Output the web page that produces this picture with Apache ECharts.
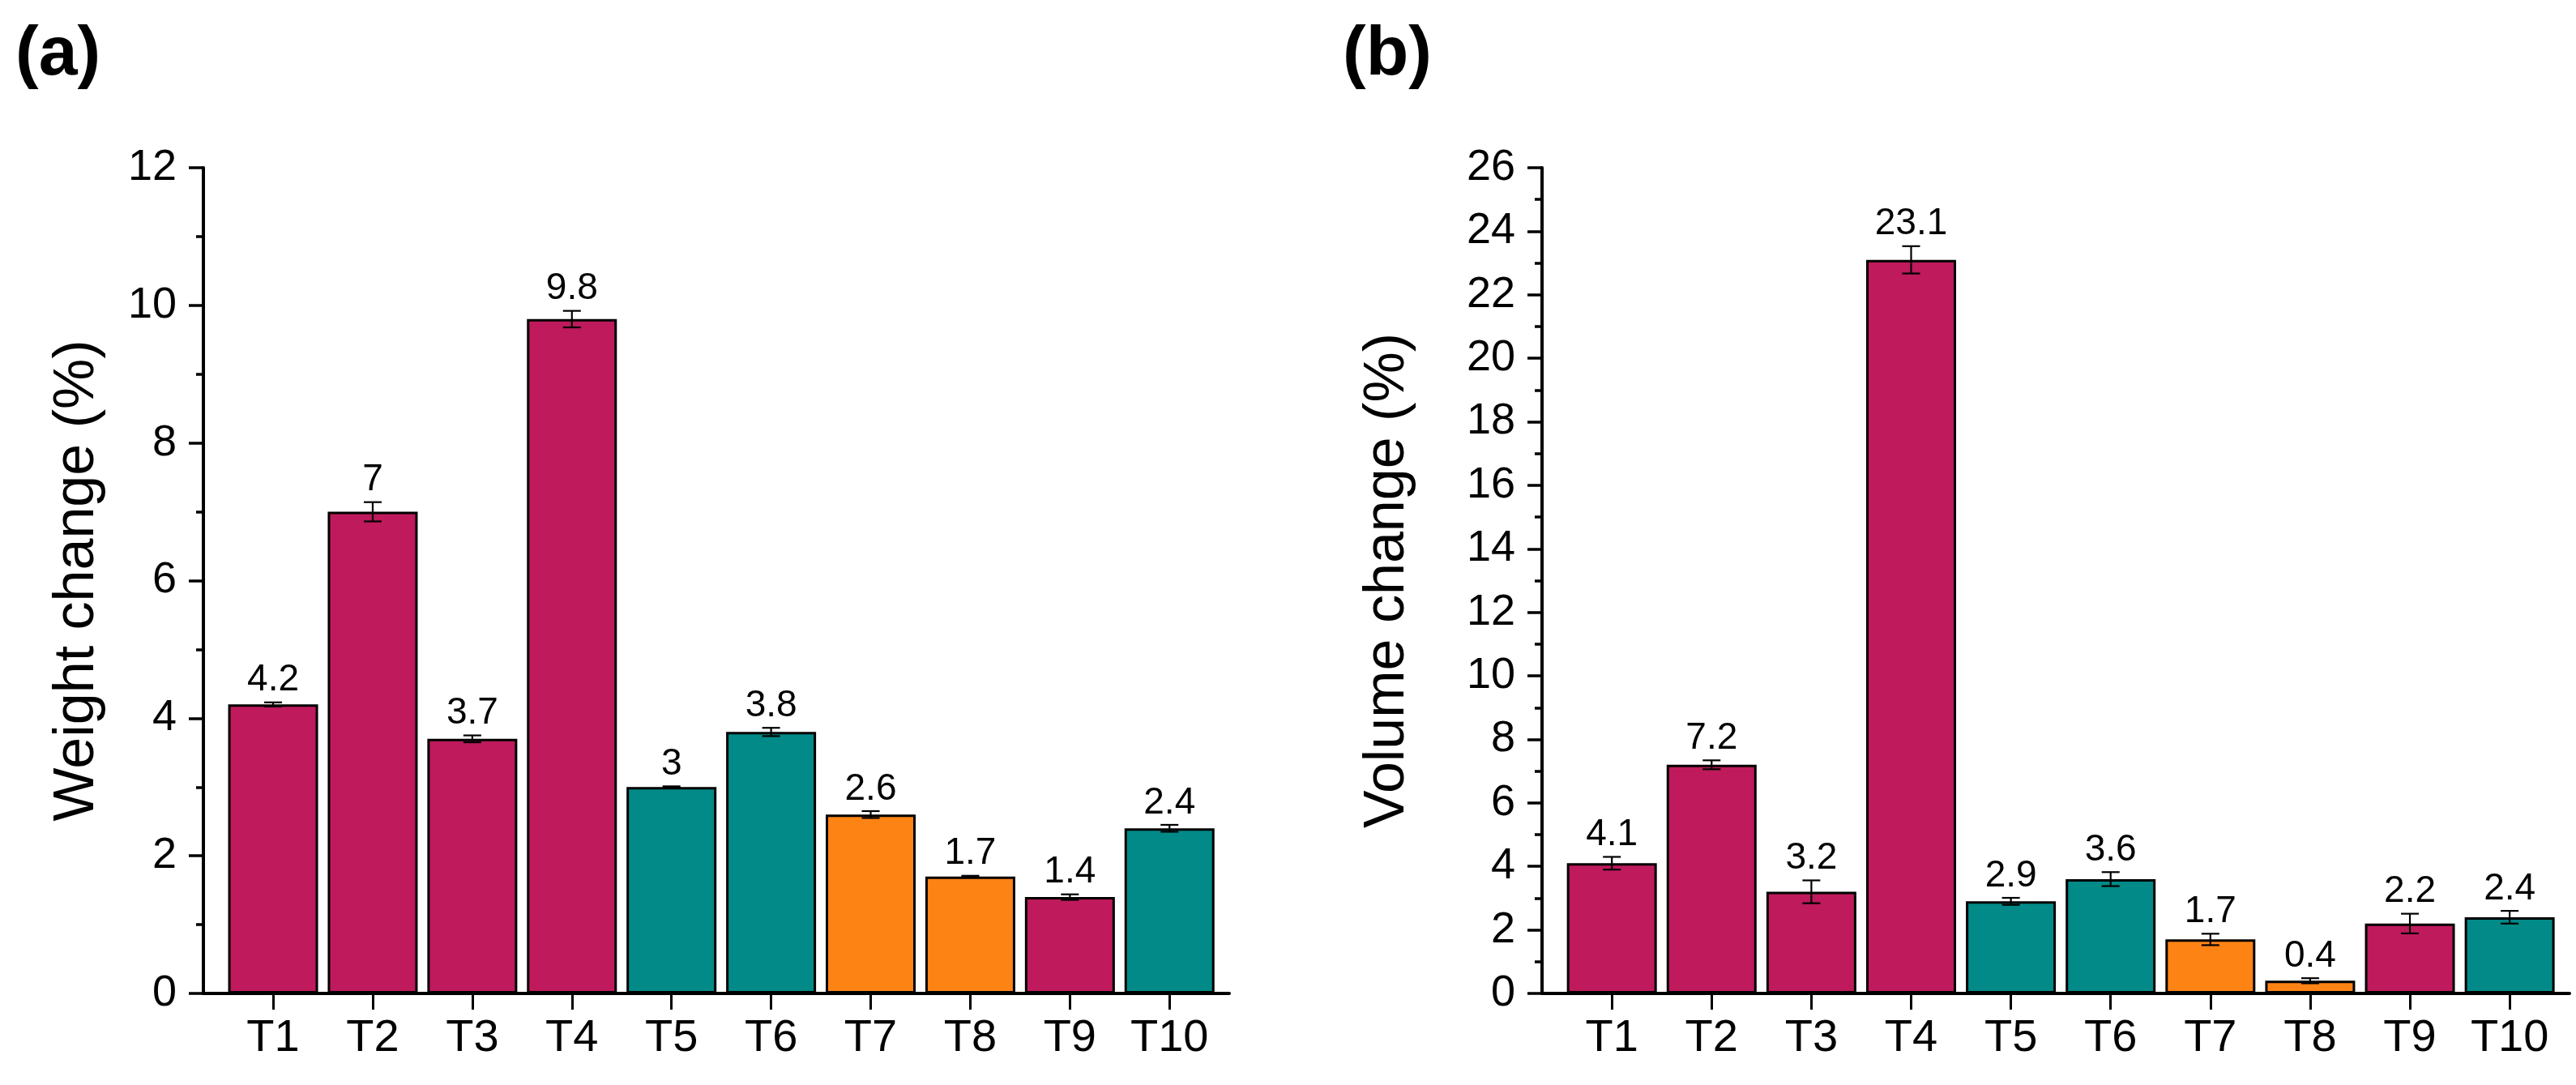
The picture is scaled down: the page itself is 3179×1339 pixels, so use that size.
<!DOCTYPE html>
<html>
<head>
<meta charset="utf-8">
<script src="https://cdn.jsdelivr.net/npm/echarts@6/dist/echarts.min.js"></script>
<style>
html,body{margin:0;padding:0;background:#fff;}
#c{width:3179px;height:1339px;}
</style>
</head>
<body>
<div id="c"></div>
<script>
// ---- data ----
const categories = ['T1','T2','T3','T4','T5','T6','T7','T8','T9','T10'];
const groups = ['c','c','c','c','t','t','o','o','c','t'];
const weightValues = [4.2, 7, 3.7, 9.8, 3, 3.8, 2.6, 1.7, 1.4, 2.4];
const weightErrors = [0.03, 0.14, 0.05, 0.12, 0.01, 0.06, 0.05, 0.01, 0.04, 0.05];
const volumeValues = [4.1, 7.2, 3.2, 23.1, 2.9, 3.6, 1.7, 0.4, 2.2, 2.4];
const volumeErrors = [0.2, 0.14, 0.36, 0.43, 0.11, 0.22, 0.18, 0.08, 0.31, 0.2];
const weightTicks = [0, 2, 4, 6, 8, 10, 12];
const volumeTicks = [0, 2, 4, 6, 8, 10, 12, 14, 16, 18, 20, 22, 24, 26];
const panelLabels = ['(a)', '(b)'];
const axisTitles = ['Weight change (%)', 'Volume change (%)'];
const palette = { c: '#BE1A5C', t: '#018A87', o: '#FE8315' };

const FONT = "'Liberation Sans', Arial, sans-serif";
const positions = categories.map((_, i) => i + 1);

function barData(vals) {
  return vals.map((v, i) => ({ value: [positions[i], v], itemStyle: { color: palette[groups[i]] } }));
}
function errData(vals, errs) {
  return vals.map((v, i) => [positions[i], v, errs[i]]);
}
function errRender(params, api) {
  const x = api.value(0), v = api.value(1), e = api.value(2);
  const top = api.coord([x, v + e]);
  const bot = api.coord([x, v - e]);
  const hw = 11;
  const ls = { stroke: '#000', lineWidth: 2.2 };
  return {
    type: 'group',
    children: [
      { type: 'line', shape: { x1: top[0], y1: top[1], x2: bot[0], y2: bot[1] }, style: ls },
      { type: 'line', shape: { x1: top[0] - hw, y1: top[1], x2: top[0] + hw, y2: top[1] }, style: ls },
      { type: 'line', shape: { x1: bot[0] - hw, y1: bot[1], x2: bot[0] + hw, y2: bot[1] }, style: ls },
      { type: 'text', x: top[0], y: top[1] - 4,
        style: { text: String(v), fontFamily: FONT, fontSize: 46, fill: '#000', align: 'center', verticalAlign: 'bottom' } }
    ]
  };
}

function xAxis(gridIndex) {
  return {
    type: 'value', gridIndex, min: 0.3, max: 10.6,
    splitLine: { show: false },
    axisLine: { show: true, onZero: false, lineStyle: { color: '#000', width: 4 } },
    axisTick: { show: true, customValues: positions, length: 20, lineStyle: { color: '#000', width: 3 } },
    axisLabel: { customValues: positions, formatter: v => categories[Math.round(v) - 1] || '',
      fontFamily: FONT, fontSize: 56, color: '#000', margin: 28 }
  };
}
function yAxis(gridIndex, ticks, name, nameGap) {
  return {
    type: 'value', gridIndex, min: ticks[0], max: ticks[ticks.length - 1], interval: ticks[1] - ticks[0],
    name, nameLocation: 'middle', nameGap,
    nameTextStyle: { fontFamily: FONT, fontSize: 70, color: '#000' },
    splitLine: { show: false },
    axisLine: { show: true, lineStyle: { color: '#000', width: 4 } },
    axisTick: { show: true, length: 18, lineStyle: { color: '#000', width: 3.5 } },
    minorTick: { show: true, splitNumber: 2, length: 9, lineStyle: { color: '#000', width: 3.5 } },
    axisLabel: { fontFamily: FONT, fontSize: 54, color: '#000', margin: 33 }
  };
}

const chart = echarts.init(document.getElementById('c'), null, { renderer: 'canvas' });
chart.setOption({
  backgroundColor: '#fff',
  animation: false,
  title: [
    { text: panelLabels[0], left: 14, top: 20, textStyle: { fontFamily: FONT, fontSize: 86, fontWeight: 'bold', color: '#000' } },
    { text: panelLabels[1], left: 1652, top: 20, textStyle: { fontFamily: FONT, fontSize: 86, fontWeight: 'bold', color: '#000' } }
  ],
  grid: [
    { left: 251, top: 207, width: 1266, height: 1019, outerBoundsMode: 'none', containLabel: false },
    { left: 1903, top: 207, width: 1268, height: 1019, outerBoundsMode: 'none', containLabel: false }
  ],
  xAxis: [xAxis(0), xAxis(1)],
  yAxis: [yAxis(0, weightTicks, axisTitles[0], 120), yAxis(1, volumeTicks, axisTitles[1], 155)],
  series: [
    { type: 'bar', xAxisIndex: 0, yAxisIndex: 0, barWidth: 111, data: barData(weightValues),
      itemStyle: { borderColor: '#000', borderWidth: 3 } },
    { type: 'custom', xAxisIndex: 0, yAxisIndex: 0, renderItem: errRender, data: errData(weightValues, weightErrors), z: 5 },
    { type: 'bar', xAxisIndex: 1, yAxisIndex: 1, barWidth: 111, data: barData(volumeValues),
      itemStyle: { borderColor: '#000', borderWidth: 3 } },
    { type: 'custom', xAxisIndex: 1, yAxisIndex: 1, renderItem: errRender, data: errData(volumeValues, volumeErrors), z: 5 }
  ]
});
</script>
</body>
</html>
